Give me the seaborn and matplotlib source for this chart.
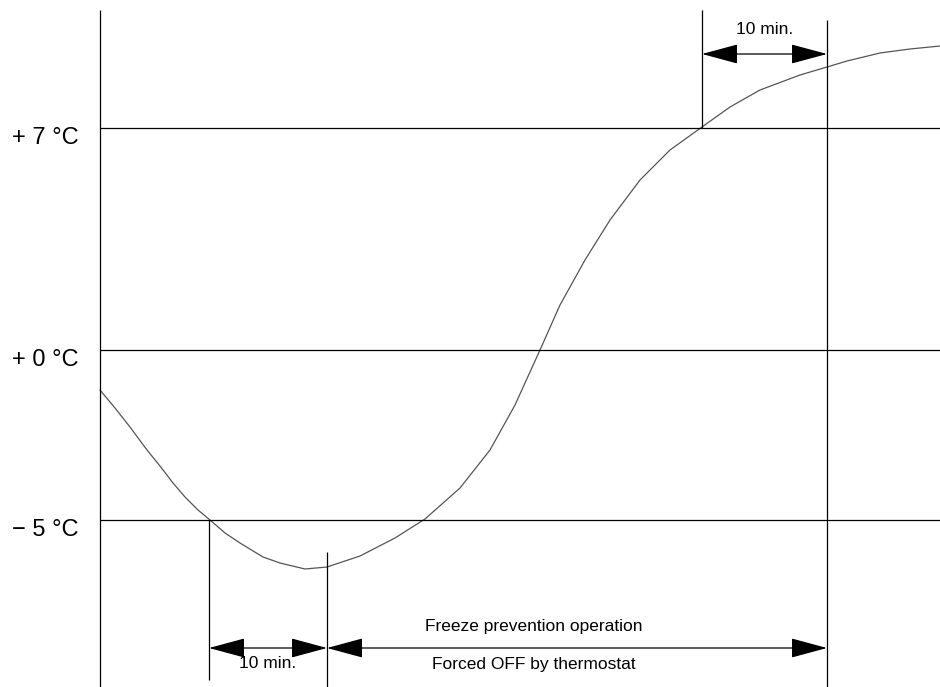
import matplotlib
matplotlib.use("Agg")
import matplotlib.pyplot as plt
import seaborn as sns
import pandas as pd

# ------------------------------------------
# Data (drawing units, y grows downward)
# ------------------------------------------
curve_x = [100, 115, 130, 147, 160, 173, 185, 198, 210, 225, 240, 263, 280, 305,
           327, 360, 395, 425, 460, 490, 515, 540, 560, 585, 610, 640, 670, 702,
           730, 760, 800, 827, 847, 880, 910, 940]
curve_y = [390, 408, 427, 450, 466, 483, 497, 510, 520, 533, 543, 557, 563, 569,
           567, 556, 538, 519, 488, 450, 405, 350, 305, 260, 220, 180, 150, 127,
           107, 90, 75, 67, 61, 53, 49, 46]

level_labels = ["+ 7 °C", "+ 0 °C", "\u2212 5 °C"]
level_y = [128, 350, 520]

mark_x = [100, 209, 327, 702, 827]
mark_top = [10, 520, 552, 10, 20]
mark_bottom = [687, 680, 690, 128, 687]

span_labels = ["10 min.", "10 min."]
span_start = [209, 702]
span_end = [327, 827]
span_y = [648, 54]
span_text_y = [664, 30]

long_start, long_end, long_y = 327, 827, 648
long_text_top = "Freeze prevention operation"
long_text_bottom = "Forced OFF by thermostat"

# ------------------------------------------
# Figure
# ------------------------------------------
sns.set_style("white")
plt.rcParams["font.family"] = ["Liberation Sans", "DejaVu Sans"]

fig = plt.figure(figsize=(9.4, 6.87), dpi=100)
ax = fig.add_axes([0, 0, 1, 1])
ax.set_xlim(0, 940)
ax.set_ylim(687, 0)
ax.axis("off")

df = pd.DataFrame({"x": curve_x, "y": curve_y})
sns.lineplot(data=df, x="x", y="y", ax=ax, color="#555555", linewidth=0.9,
             sort=False, estimator=None)

for y, lab in zip(level_y, level_labels):
    ax.hlines(y, 100, 940, color="black", linewidth=0.9)
    ax.text(12, y + 10, lab, fontsize=17, va="center", ha="left", color="black")

for x, t, b in zip(mark_x, mark_top, mark_bottom):
    ax.vlines(x, t, b, color="black", linewidth=0.9)

arrow = dict(arrowstyle="<|-|>,head_length=2.3,head_width=0.62", mutation_scale=10,
             color="black", linewidth=0.9, shrinkA=0, shrinkB=0)

for s, e, y, ty, lab in zip(span_start, span_end, span_y, span_text_y, span_labels):
    ax.annotate("", xy=(e, y), xytext=(s, y), arrowprops=arrow)
    ax.text((s + e) / 2, ty, lab, fontsize=12.5, ha="center", va="center", color="black")

ax.annotate("", xy=(long_end, long_y), xytext=(long_start, long_y), arrowprops=arrow)
ax.text(534, 627, long_text_top, fontsize=12.5, ha="center", va="center", color="black")
ax.text(534, 665, long_text_bottom, fontsize=12.5, ha="center", va="center", color="black")

fig.savefig("out.png", dpi=100)
